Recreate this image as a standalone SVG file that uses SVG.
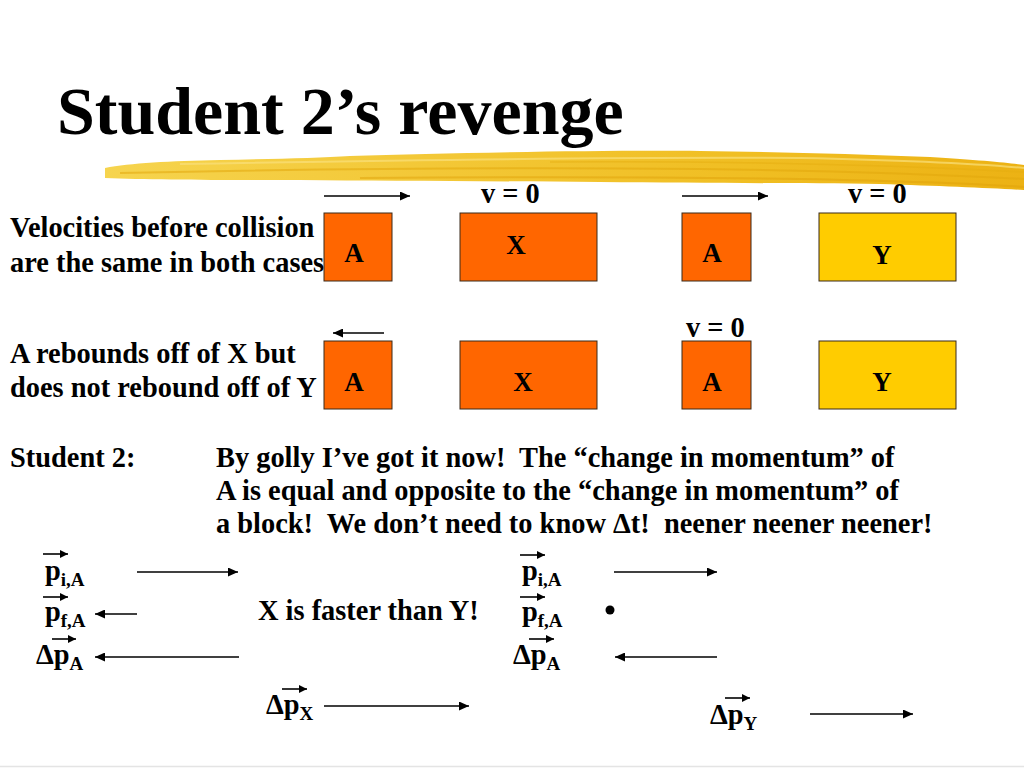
<svg xmlns="http://www.w3.org/2000/svg" width="1024" height="768" viewBox="0 0 1024 768">
<defs>
<style>
text{font-family:"Liberation Serif","Times New Roman",serif;font-weight:bold;fill:#000;white-space:pre}
.title{font-size:68px}
.t{font-size:28.4px}
.sub{font-size:19px}
.box-o{fill:#FF6600;stroke:#3a2a1a;stroke-width:1}
.box-y{fill:#FFCC00;stroke:#3a2a1a;stroke-width:1}
.lbl{font-size:27px;text-anchor:middle}
.arr{stroke:#000;stroke-width:1.6;fill:none;marker-end:url(#ah)}
.varr{stroke:#000;stroke-width:1.6;fill:none;marker-end:url(#ahs)}
</style>
<marker id="ah" markerUnits="userSpaceOnUse" markerWidth="11" markerHeight="9" refX="10" refY="4.5" orient="auto">
<path d="M0,0 L10,4.5 L0,9 z" fill="#000"/>
</marker>
<marker id="ahs" markerUnits="userSpaceOnUse" markerWidth="9" markerHeight="8" refX="8" refY="4" orient="auto">
<path d="M0,0 L8,4 L0,8 z" fill="#000"/>
</marker>
<linearGradient id="brush" x1="0" y1="0" x2="1" y2="0">
<stop offset="0" stop-color="#F6D44E"/>
<stop offset="0.35" stop-color="#F3C837"/>
<stop offset="0.7" stop-color="#F0BE22"/>
<stop offset="1" stop-color="#ECB214"/>
</linearGradient>
</defs>
<rect width="1024" height="768" fill="#fff"/>

<g id="title">
<text class="title" x="57" y="134">Student 2’s revenge</text>
</g>

<g id="brush-stroke">
<path d="M105,168 C130,163 170,161 220,160 C270,159 320,158 350,156 C450,153 600,150 700,151 C780,152 850,154 930,157 C980,160 1010,163 1024,165 L1024,190 C990,188 940,186 880,184 C780,183 700,183 600,182 C480,181 380,181 300,180 C220,180 150,180 105,178 Z" fill="url(#brush)"/>
<path d="M120,173 C300,169 500,167 700,169 C850,171 950,175 1024,179" stroke="#E2A70C" stroke-width="2" fill="none" opacity="0.55"/>
<path d="M180,164 C400,160 600,157 800,158 C900,160 980,164 1024,168" stroke="#FAE07A" stroke-width="2" fill="none" opacity="0.7"/>
<path d="M360,178 C500,177 650,177 800,179 C900,181 980,184 1024,187" stroke="#DFA209" stroke-width="2" fill="none" opacity="0.5"/>
<path d="M550,162 C700,161 850,163 1024,172" stroke="#E6AE10" stroke-width="1.5" fill="none" opacity="0.5"/>
</g>

<g id="caption-1">
<text class="t" x="10" y="237">Velocities before collision</text>
<text class="t" x="10" y="272">are the same in both cases</text>
</g>
<g id="caption-2">
<text class="t" x="10" y="363">A rebounds off of X but</text>
<text class="t" x="10" y="397">does not rebound off of Y</text>
</g>

<g id="box-a1"><rect class="box-o" x="324" y="213" width="68" height="68"/><text class="lbl" x="354" y="262">A</text></g>
<g id="box-x1"><rect class="box-o" x="460" y="213" width="137" height="68"/><text class="lbl" x="516" y="254">X</text></g>
<g id="box-a2"><rect class="box-o" x="682" y="213" width="69" height="68"/><text class="lbl" x="712" y="262">A</text></g>
<g id="box-y1"><rect class="box-y" x="819" y="213" width="137" height="68"/><text class="lbl" x="882" y="264">Y</text></g>

<g id="box-a3"><rect class="box-o" x="324" y="341" width="68" height="68"/><text class="lbl" x="354" y="391">A</text></g>
<g id="box-x2"><rect class="box-o" x="460" y="341" width="137" height="68"/><text class="lbl" x="523" y="391">X</text></g>
<g id="box-a4"><rect class="box-o" x="682" y="341" width="69" height="68"/><text class="lbl" x="712" y="391">A</text></g>
<g id="box-y2"><rect class="box-y" x="819" y="341" width="137" height="68"/><text class="lbl" x="882" y="391">Y</text></g>

<g id="v-labels">
<text class="t" x="481" y="203">v = 0</text>
<text class="t" x="848" y="203">v = 0</text>
<text class="t" x="686" y="337">v = 0</text>
</g>

<g id="student2">
<text class="t" x="10" y="467">Student 2:</text>
<text class="t" x="216" y="467">By golly I’ve got it now!  The “change in momentum” of</text>
<text class="t" x="216" y="500">A is equal and opposite to the “change in momentum” of</text>
<text class="t" x="216" y="533">a block!  We don’t need to know Δt!  neener neener neener!</text>
</g>

<g id="vectors-left">
<text class="t" x="45" y="580">p<tspan class="sub" dy="6">i,A</tspan></text>
<text class="t" x="45" y="621">p<tspan class="sub" dy="6">f,A</tspan></text>
<text class="t" x="36" y="664">Δp<tspan class="sub" dy="6">A</tspan></text>
<text class="t" x="258" y="620">X is faster than Y!</text>
<text class="t" x="266" y="714">Δp<tspan class="sub" dy="6">X</tspan></text>
</g>

<g id="vectors-right">
<text class="t" x="522" y="580">p<tspan class="sub" dy="6">i,A</tspan></text>
<text class="t" x="522" y="621">p<tspan class="sub" dy="6">f,A</tspan></text>
<text class="t" x="513" y="664">Δp<tspan class="sub" dy="6">A</tspan></text>
<circle cx="610" cy="610" r="4.5" fill="#000"/>
<text class="t" x="710" y="724">Δp<tspan class="sub" dy="6">Y</tspan></text>
</g>

<g id="connectors">
<line class="arr" x1="324" y1="196" x2="410" y2="196"/>
<line class="arr" x1="682" y1="196" x2="768" y2="196"/>
<line class="arr" x1="384" y1="333" x2="333" y2="333"/>

<line class="varr" x1="43" y1="554" x2="68" y2="554"/>
<line class="varr" x1="43" y1="597" x2="68" y2="597"/>
<line class="varr" x1="52" y1="639" x2="76" y2="639"/>
<line class="varr" x1="282" y1="689" x2="307" y2="689"/>
<line class="varr" x1="520" y1="555" x2="545" y2="555"/>
<line class="varr" x1="520" y1="597" x2="545" y2="597"/>
<line class="varr" x1="529" y1="639" x2="554" y2="639"/>
<line class="varr" x1="725" y1="698" x2="750" y2="698"/>

<line class="arr" x1="137" y1="572" x2="238" y2="572"/>
<line class="arr" x1="137" y1="614" x2="95" y2="614"/>
<line class="arr" x1="239" y1="657" x2="95" y2="657"/>
<line class="arr" x1="324" y1="706" x2="469" y2="706"/>
<line class="arr" x1="614" y1="572" x2="717" y2="572"/>
<line class="arr" x1="717" y1="657" x2="615" y2="657"/>
<line class="arr" x1="810" y1="714" x2="913" y2="714"/>
</g>

<line x1="0" y1="766.5" x2="1024" y2="766.5" stroke="#e4e4e4" stroke-width="1.5"/>
</svg>
